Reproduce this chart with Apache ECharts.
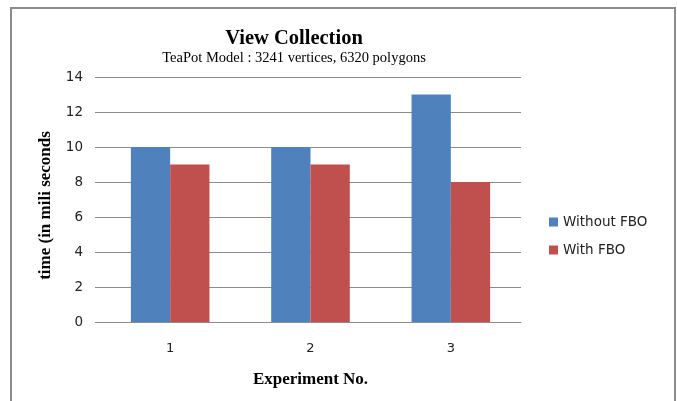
<!DOCTYPE html>
<html>
<head>
<meta charset="utf-8">
<script src="https://cdn.jsdelivr.net/npm/echarts@6/dist/echarts.min.js"></script>
<style>
  html, body { margin: 0; padding: 0; background: #fff; }
  #chart { width: 677px; height: 401px; }
  #frame { position: absolute; left: 10px; top: 7px; width: 662px; height: 400px;
           border: 2px solid #8c8c8c; border-bottom: none; pointer-events: none; }
</style>
</head>
<body>
<div id="chart"></div>
<div id="frame"></div>
<script>
// Experiment runs and render times (ms)
const categories = ['1', '2', '3'];
const withoutFBO = [10, 10, 13];
const withFBO = [9, 9, 8];
const yTicks = { min: 0, max: 14, interval: 2 };

const serif = '"Liberation Serif", "DejaVu Serif", serif';
const sans = '"DejaVu Sans", "Liberation Sans", sans-serif';
const lineGrey = '#8c8c8c';

const chart = echarts.init(document.getElementById('chart'), null, { renderer: 'canvas' });
chart.setOption({
  animation: false,
  backgroundColor: '#fff',
  title: {
    text: 'View Collection',
    subtext: 'TeaPot Model : 3241 vertices, 6320 polygons',
    left: 294, top: 27, textAlign: 'center',
    padding: 0,
    itemGap: 0,
    textStyle: { fontFamily: serif, fontWeight: 'bold', fontSize: 20.5, lineHeight: 24, color: '#000' },
    subtextStyle: { fontFamily: serif, fontSize: 14.5, lineHeight: 14, color: '#000' }
  },
  legend: {
    orient: 'vertical',
    left: 549, top: 214,
    padding: 0,
    itemWidth: 9, itemHeight: 9, itemGap: 12,
    icon: 'rect',
    textStyle: { fontFamily: sans, fontSize: 13.5, lineHeight: 16, color: '#222' },
    data: ['Without FBO', 'With FBO']
  },
  grid: { left: 100, right: 156, top: 77, bottom: 79 },
  xAxis: {
    type: 'category',
    data: categories,
    name: 'Experiment No.',
    nameLocation: 'middle',
    nameGap: 49,
    nameTextStyle: { fontFamily: serif, fontWeight: 'bold', fontSize: 17, color: '#000' },
    axisLine: { lineStyle: { color: lineGrey, width: 1 } },
    axisTick: { show: false },
    axisLabel: { fontFamily: sans, fontSize: 13, color: '#222', margin: 20 }
  },
  yAxis: {
    type: 'value',
    min: yTicks.min, max: yTicks.max, interval: yTicks.interval,
    name: 'time (in mili seconds',
    nameLocation: 'middle',
    nameGap: 46,
    nameTextStyle: { fontFamily: serif, fontWeight: 'bold', fontSize: 17, color: '#000', padding: [0, 12, 0, 0] },
    axisLine: { show: false },
    axisTick: { show: true, length: 5, lineStyle: { color: lineGrey, width: 1 } },
    axisLabel: { fontFamily: sans, fontSize: 13.5, color: '#222', margin: 17, padding: [5, 0, 0, 0] },
    splitLine: { lineStyle: { color: lineGrey, width: 1 } }
  },
  series: [
    {
      name: 'Without FBO', type: 'bar', data: withoutFBO,
      itemStyle: { color: '#4F81BD' },
      barGap: '0%', barCategoryGap: '44%'
    },
    {
      name: 'With FBO', type: 'bar', data: withFBO,
      itemStyle: { color: '#C0504D' },
      barGap: '0%', barCategoryGap: '44%'
    }
  ]
});
</script>
</body>
</html>
